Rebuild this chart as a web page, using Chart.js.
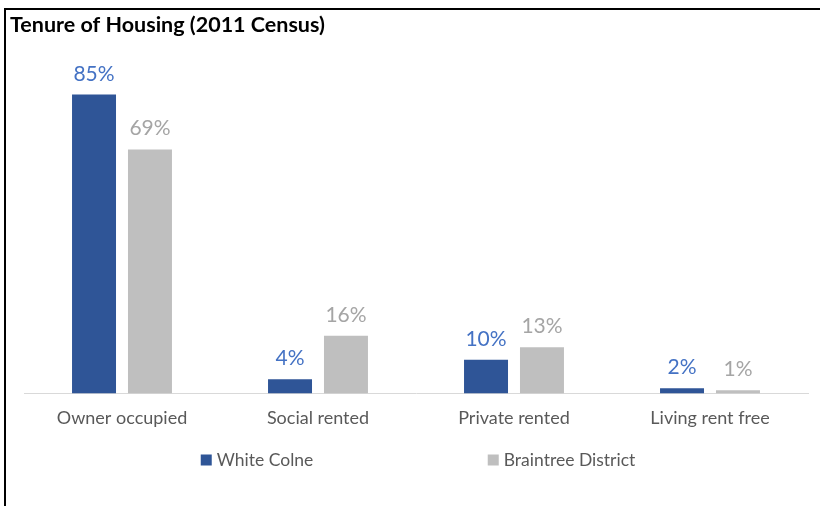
<!DOCTYPE html>
<html>
<head>
<meta charset="utf-8">
<script src="https://cdn.jsdelivr.net/npm/chart.js@4.4.1/dist/chart.umd.min.js"></script>
<style>
body{margin:0;background:#fff;}
#wrap{position:relative;width:820px;height:506px;}
#frame{position:absolute;left:4px;top:8px;right:0;bottom:0;border-left:2px solid #000;border-top:2px solid #000;pointer-events:none;}
</style>
</head>
<body>
<div id="wrap"><canvas id="mychart" width="820" height="506"></canvas><div id="frame"></div></div>
<script>
const categories=['Owner occupied','Social rented','Private rented','Living rent free'];
const whiteColne=[85.0,4.0,9.6,1.5];
const braintree=[69.4,16.4,13.1,0.9];

Chart.defaults.font.family='Lato';

// value labels above each bar
const barLabels={
    id:'barLabels',
    afterDatasetsDraw(chart){
        const ctx=chart.ctx;
        ctx.save();
        ctx.font='21px Lato';
        ctx.textAlign='center';
        ctx.textBaseline='alphabetic';
        chart.data.datasets.forEach((ds,i)=>{
            ctx.fillStyle=ds.labelColor;
            chart.getDatasetMeta(i).data.forEach((bar,j)=>{
                ctx.fillText(Math.round(ds.data[j])+'%',bar.x,bar.y-14);
            });
        });
        ctx.restore();
    }
};

// wide-spaced legend like the Excel one
const bottomLegend={
    id:'bottomLegend',
    afterDraw(chart){
        const ctx=chart.ctx,area=chart.chartArea;
        ctx.save();
        ctx.font='17.5px Lato';
        ctx.textBaseline='middle';
        const y=460,step=287;
        const items=chart.data.datasets;
        const lastW=16+ctx.measureText(items[items.length-1].label).width;
        let x=(area.left+area.right)/2-(step*(items.length-1)+lastW)/2+2;
        items.forEach(ds=>{
            ctx.fillStyle=ds.backgroundColor;
            ctx.fillRect(x,y-5.5,11,11);
            ctx.fillStyle='#595959';
            ctx.fillText(ds.label,x+16,y);
            x+=step;
        });
        ctx.restore();
    }
};

const ctx=document.getElementById('mychart').getContext('2d');
let mychart=new Chart(ctx,{
    type:'bar',
    data:{
        labels:categories,
        datasets:[
            {label:'White Colne',data:whiteColne,backgroundColor:'#2F5597',labelColor:'#4472C4',barPercentage:0.786,categoryPercentage:0.571},
            {label:'Braintree District',data:braintree,backgroundColor:'#BFBFBF',labelColor:'#A5A5A5',barPercentage:0.786,categoryPercentage:0.571}
        ]
    },
    options:{
        responsive:false,
        animation:false,
        devicePixelRatio:1,
        layout:{padding:{left:10,right:12,top:0,bottom:63}},
        plugins:{
            legend:{display:false},
            tooltip:{enabled:false},
            title:{
                display:true,
                text:'Tenure of Housing (2011 Census)',
                align:'start',
                color:'#000',
                font:{size:21.5,weight:'bold'},
                padding:{top:12,bottom:4}
            }
        },
        scales:{
            x:{
                grid:{display:false,drawTicks:false},
                border:{color:'#D9D9D9',width:1},
                ticks:{color:'#595959',font:{size:18},padding:14,maxRotation:0}
            },
            y:{
                min:0,max:100,
                grid:{display:false},
                border:{display:false},
                ticks:{display:false},
                afterFit(s){s.width=14;}
            }
        }
    },
    plugins:[barLabels,bottomLegend]
});
</script>
</body>
</html>
